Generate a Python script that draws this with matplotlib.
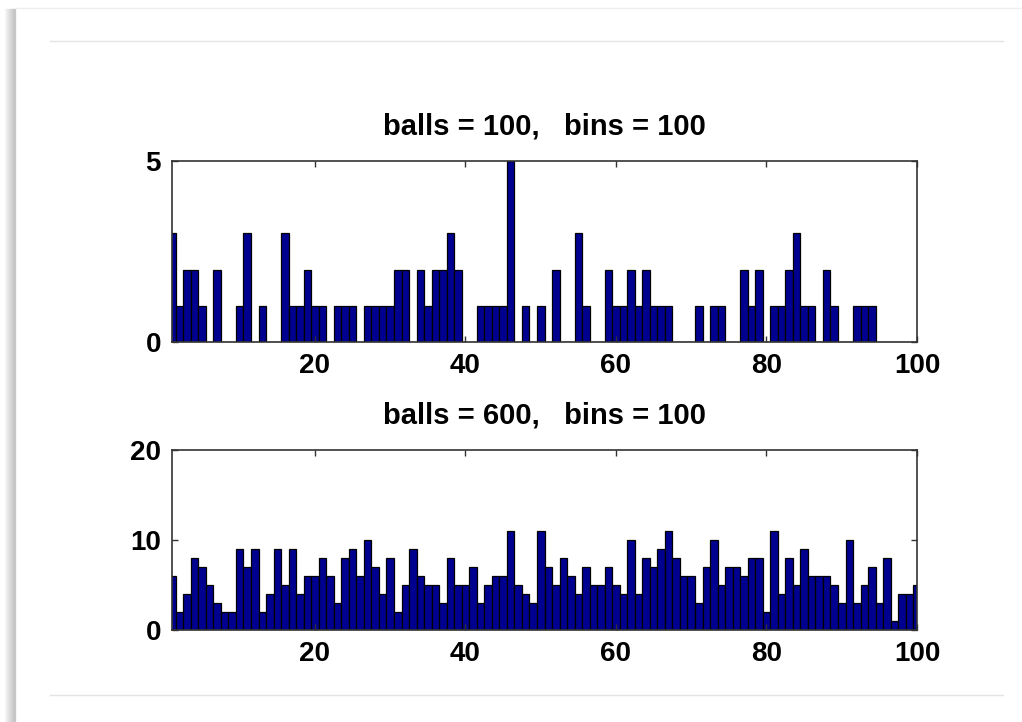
import matplotlib
matplotlib.use("Agg")
import matplotlib.pyplot as plt
from matplotlib.lines import Line2D
import numpy as np

plt.rcParams['font.family'] = ['Liberation Sans', 'DejaVu Sans']
plt.rcParams['font.weight'] = 'bold'

# bin centres 1..100
bins = list(range(1, 101))

# counts, 100 balls
counts_100 = [3, 1, 2, 2, 1, 0, 2, 0, 0, 1,
              3, 0, 1, 0, 0, 3, 1, 1, 2, 1,
              1, 0, 1, 1, 1, 0, 1, 1, 1, 1,
              2, 2, 0, 2, 1, 2, 2, 3, 2, 0,
              0, 1, 1, 1, 1, 5, 0, 1, 0, 1,
              0, 2, 0, 0, 3, 1, 0, 0, 2, 1,
              1, 2, 1, 2, 1, 1, 1, 0, 0, 0,
              1, 0, 1, 1, 0, 0, 2, 1, 2, 0,
              1, 1, 2, 3, 1, 1, 0, 2, 1, 0,
              0, 1, 1, 1, 0, 0, 0, 0, 0, 0]

# counts, 600 balls
counts_600 = [6, 2, 4, 8, 7, 5, 3, 2, 2, 9,
              7, 9, 2, 4, 9, 5, 9, 4, 6, 6,
              8, 6, 3, 8, 9, 6, 10, 7, 4, 8,
              2, 5, 9, 6, 5, 5, 3, 8, 5, 5,
              7, 3, 5, 6, 6, 11, 5, 4, 3, 11,
              7, 5, 8, 6, 4, 7, 5, 5, 7, 5,
              4, 10, 4, 8, 7, 9, 11, 8, 6, 6,
              3, 7, 10, 5, 7, 7, 6, 8, 8, 2,
              11, 4, 8, 5, 9, 6, 6, 6, 5, 3,
              10, 3, 5, 7, 3, 8, 1, 4, 4, 5]

titles = ["balls = 100,   bins = 100", "balls = 600,   bins = 100"]
xticks = [20, 40, 60, 80, 100]
yticks_list = [[0, 5], [0, 10, 20]]
ylims = [(0, 5), (0, 20)]

W, H = 1022, 722
fig = plt.figure(figsize=(W / 100, H / 100), dpi=100)
fig.patch.set_facecolor('white')

# page decoration: left shadow and thin gray rules
for i, a in enumerate(np.linspace(0.05, 0.4, 11)):
    x = (5 + i) / W
    fig.add_artist(Line2D([x, x], [0, 1 - 9 / H], transform=fig.transFigure,
                          color='gray', alpha=a, lw=1))
fig.add_artist(Line2D([16 / W, 1], [1 - 8 / H, 1 - 8 / H], transform=fig.transFigure,
                      color='#eeeeee', lw=1))
for yy in [41, 695]:
    fig.add_artist(Line2D([50 / W, 1003 / W], [1 - yy / H, 1 - yy / H],
                          transform=fig.transFigure, color='#e4e4e4', lw=1))

boxes = [(172, 161, 917, 342), (172, 450, 917, 630)]
data = [counts_100, counts_600]

for k in range(2):
    l, t, r, b = boxes[k]
    ax = fig.add_axes([l / W, 1 - b / H, (r - l) / W, (b - t) / H])
    ax.bar(bins, data[k], width=1.0, color='#000090', edgecolor='black', linewidth=0.9)
    ax.set_xlim(1, 100)
    ax.set_ylim(*ylims[k])
    ax.set_xticks(xticks)
    ax.set_yticks(yticks_list[k])
    ax.tick_params(direction='in', length=4, width=1, top=True, right=True,
                   labelsize=20, pad=8, color='#333333')
    for s in ax.spines.values():
        s.set_color('#333333')
        s.set_linewidth(1.2)
    ax.set_title(titles[k], fontsize=21, fontweight='bold', pad=19)

fig.savefig("out.png", dpi=100, facecolor='white')
